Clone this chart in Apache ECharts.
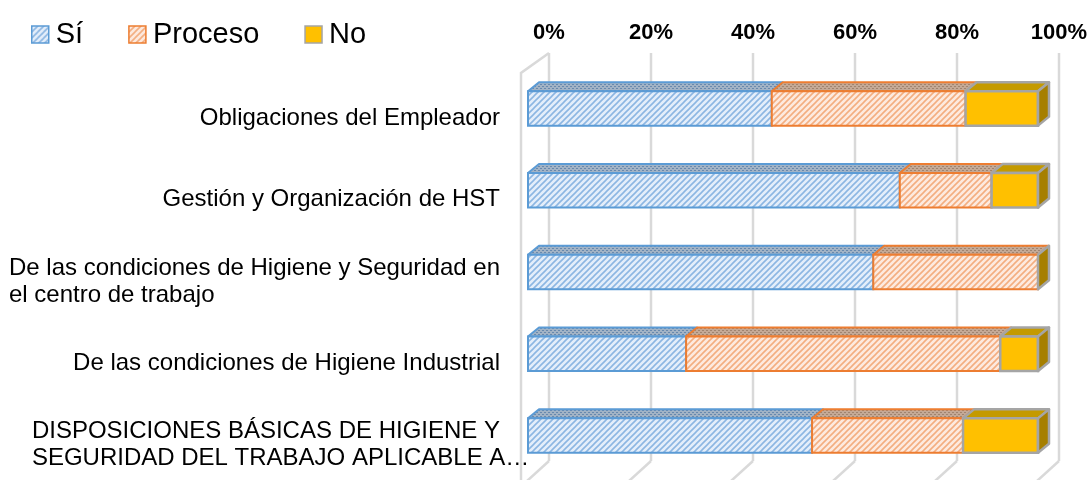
<!DOCTYPE html>
<html>
<head>
<meta charset="utf-8">
<script src="https://cdn.jsdelivr.net/npm/echarts@6/dist/echarts.min.js"></script>
<style>
  html, body { margin: 0; padding: 0; background: #fff; }
  #chart { width: 1091px; height: 480px; }
</style>
</head>
<body>
<div id="chart"></div>
<script>
// data (percent of each row)
const categories = [
  'Obligaciones del Empleador',
  'Gestión y Organización de HST',
  'De las condiciones de Higiene y Seguridad en\nel centro de trabajo',
  'De las condiciones de Higiene Industrial',
  'DISPOSICIONES BÁSICAS DE HIGIENE Y\nSEGURIDAD DEL TRABAJO APLICABLE A…'
];
const seriesNames = ['Sí', 'Proceso', 'No'];
const si = [47.8, 72.9, 67.7, 31.0, 55.7];
const proceso = [38.0, 18.0, 32.3, 61.6, 29.6];
const no = [14.2, 9.1, 0, 7.4, 14.7];
const tickValues = [0, 20, 40, 60, 80, 100];

const FONT = '"Liberation Sans", Arial, sans-serif';

// fill patterns (hatched fronts, dotted tops like the excel 3d look)
function hatch(bg, fg) {
  const s = 6;
  const c = document.createElement('canvas');
  c.width = c.height = s;
  const g = c.getContext('2d');
  g.fillStyle = bg;
  g.fillRect(0, 0, s, s);
  g.strokeStyle = fg;
  g.lineWidth = 1.6;
  g.beginPath();
  g.moveTo(0, s); g.lineTo(s, 0);
  g.moveTo(-1, 1); g.lineTo(1, -1);
  g.moveTo(s - 1, s + 1); g.lineTo(s + 1, s - 1);
  g.stroke();
  return { image: c, repeat: 'repeat' };
}
function dots(bg, fg) {
  const s = 4;
  const c = document.createElement('canvas');
  c.width = c.height = s;
  const g = c.getContext('2d');
  g.fillStyle = bg;
  g.fillRect(0, 0, s, s);
  g.fillStyle = fg;
  g.fillRect(0, 0, 2, 1);
  g.fillRect(2, 2, 2, 1);
  return { image: c, repeat: 'repeat' };
}

const looks = [
  { front: hatch('#e4eefa', '#8cb6e2'), top: dots('#a2b3c5', '#6889ae'), side: '#8fa6bd', stroke: '#5b9bd5', lw: 2 },
  { front: hatch('#fdeadf', '#f3ae80'), top: dots('#c4a996', '#a0846f'), side: '#c0a08a', stroke: '#ed7d31', lw: 2 },
  { front: '#ffc000', top: '#c49a00', side: '#a67f00', stroke: '#a5a5a5', lw: 2.5 }
];

// cumulative [start, end, row] for each series
const starts = [si.map(() => 0), si.slice(), si.map((v, i) => v + proceso[i])];
const values = [si, proceso, no];
function segs(k) {
  return values[k].map((v, i) => [starts[k][i], starts[k][i] + v, i]);
}

const DX = 11, DY = -9;

function barItem(k) {
  return function (params, api) {
    const row = api.value(2);
    const p0 = api.coord([api.value(0), row]);
    const p1 = api.coord([api.value(1), row]);
    const h = api.size([0, 1])[1] * 0.42;
    const yT = p0[1] - h / 2, yB = p0[1] + h / 2;
    const x0 = p0[0], x1 = p1[0];
    const L = looks[k];
    const kids = [];
    if (x1 - x0 > 0.5) {
      kids.push({
        type: 'polygon',
        shape: { points: [[x0, yT], [x1, yT], [x1 + DX, yT + DY], [x0 + DX, yT + DY]] },
        style: { fill: L.top, stroke: L.stroke, lineWidth: L.lw, lineJoin: 'round' }
      });
      kids.push({
        type: 'rect',
        shape: { x: x0, y: yT, width: x1 - x0, height: h },
        style: { fill: L.front, stroke: L.stroke, lineWidth: L.lw }
      });
    }
    if (k === 2) {
      // end face of the whole bar
      kids.push({
        type: 'polygon',
        shape: { points: [[x1, yT], [x1 + DX, yT + DY], [x1 + DX, yB + DY], [x1, yB]] },
        style: { fill: L.side, stroke: L.stroke, lineWidth: L.lw, lineJoin: 'round' }
      });
    }
    return { type: 'group', children: kids };
  };
}

// back wall grid lines and left wall, on the back plane grid
function wallItem(params, api) {
  const v = api.value(0);
  const top = api.coord([v, 1]);
  const bot = api.coord([v, 0]);
  const st = { stroke: '#d9d9d9', lineWidth: 2.5, fill: null };
  const kids = [
    { type: 'line', shape: { x1: top[0], y1: top[1], x2: bot[0], y2: bot[1] }, style: st },
    { type: 'line', shape: { x1: bot[0], y1: bot[1], x2: bot[0] - 22, y2: bot[1] + 20 }, style: st }
  ];
  if (v === 0) {
    kids.push({ type: 'polyline', shape: { points: [[top[0], top[1]], [top[0] - 28, top[1] + 20], [top[0] - 28, bot[1] + 40]] }, style: st });
  }
  return { type: 'group', children: kids };
}

const chart = echarts.init(document.getElementById('chart'), null, { renderer: 'canvas' });

const option = {
  animation: false,
  backgroundColor: '#fff',
  textStyle: { fontFamily: FONT },
  legend: {
    left: 26,
    top: 15,
    itemWidth: 17,
    itemHeight: 17,
    itemGap: 45,
    textStyle: { fontSize: 29, color: '#000', fontFamily: FONT, padding: [0, 0, 0, 2] },
    data: [
      { name: 'Sí', icon: 'rect', itemStyle: { color: looks[0].front, borderColor: '#5b9bd5', borderWidth: 1.5 } },
      { name: 'Proceso', icon: 'rect', itemStyle: { color: looks[1].front, borderColor: '#ed7d31', borderWidth: 1.5 } },
      { name: 'No', icon: 'rect', itemStyle: { color: '#ffc000', borderColor: '#a5a5a5', borderWidth: 1.5 } }
    ]
  },
  grid: [
    { left: 528, right: 53, top: 67.6, bottom: 3.6 },
    { left: 549, right: 32, top: 53, bottom: 19 }
  ],
  xAxis: [
    { gridIndex: 0, type: 'value', min: 0, max: 100, show: false },
    {
      gridIndex: 1, type: 'value', min: 0, max: 100, interval: 20, position: 'top',
      axisLine: { show: false }, axisTick: { show: false }, splitLine: { show: false },
      axisLabel: { formatter: '{value}%', fontSize: 22, fontWeight: 'bold', color: '#000', margin: 9, fontFamily: FONT }
    }
  ],
  yAxis: [
    {
      gridIndex: 0, type: 'category', inverse: true, data: categories,
      axisLine: { show: false }, axisTick: { show: false }, splitLine: { show: false },
      axisLabel: {
        interval: 0,
        margin: 28,
        padding: [19, 0, 0, 0],
        formatter: function (val) {
          const lines = val.split('\n');
          return lines.map((l, i) => (i > 0 && l.endsWith('…') ? '{b|' + l + '}' : '{a|' + l + '}')).join('\n');
        },
        rich: {
          a: { fontSize: 24, lineHeight: 27, color: '#000', align: 'left', fontFamily: FONT },
          b: { fontSize: 24, lineHeight: 27, color: '#000', align: 'left', width: 466, fontFamily: FONT }
        }
      }
    },
    { gridIndex: 1, type: 'value', min: 0, max: 1, show: false }
  ],
  series: [
    {
      name: 'wall', type: 'custom', xAxisIndex: 1, yAxisIndex: 1, silent: true,
      renderItem: wallItem, data: tickValues.map(v => [v]), encode: { x: 0 }, clip: false
    }
  ].concat(seriesNames.map((name, k) => ({
    name: name,
    type: 'custom',
    xAxisIndex: 0,
    yAxisIndex: 0,
    itemStyle: { color: k === 2 ? '#ffc000' : looks[k].stroke },
    renderItem: barItem(k),
    encode: { x: [0, 1], y: 2 },
    data: segs(k)
  })))
};

chart.setOption(option);
</script>
</body>
</html>
